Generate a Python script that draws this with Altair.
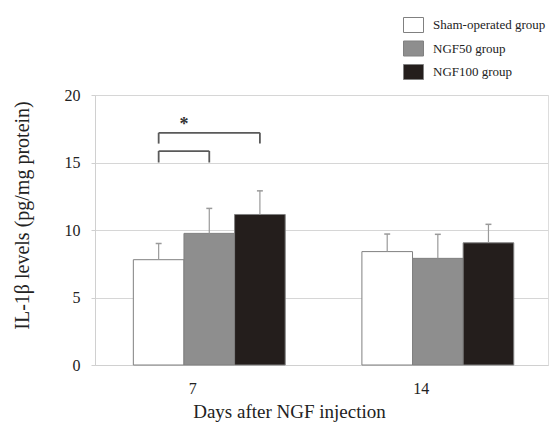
import altair as alt
import pandas as pd

days = ["7", "14"]
groups = ["Sham-operated group", "NGF50 group", "NGF100 group"]
colors = ["#ffffff", "#8e8e8e", "#241e1c"]
means = {
    "Sham-operated group": [7.8, 8.4],
    "NGF50 group": [9.75, 7.9],
    "NGF100 group": [11.15, 9.05],
}
errors = {
    "Sham-operated group": [1.2, 1.3],
    "NGF50 group": [1.85, 1.78],
    "NGF100 group": [1.75, 1.37],
}
# significance brackets (day 7): pairs, bracket height, drop of tips
bracket_pairs = [("Sham-operated group", "NGF50 group"), ("Sham-operated group", "NGF100 group")]
bracket_top = [15.85, 17.2]
bracket_drop = [0.85, 0.8]
star_label = "*"
star_y = 18.0

BW = 0.2215  # bar width in band units
LABEL_SHIFT = -0.075  # tick labels sit slightly left of group centres
offs = {g: (i - 1) * BW for i, g in enumerate(groups)}

rows = []
for di, d in enumerate(days):
    for g in groups:
        c = di + offs[g]
        m = means[g][di]
        e = errors[g][di]
        rows.append(dict(day=d, group=g, xc=c, x0=c - BW / 2, x1=c + BW / 2,
                         mean=m, hi=m + e, c0=c - 0.013, c1=c + 0.013))
df = pd.DataFrame(rows)

hrows, vrows = [], []
for (a, b), top, drop in zip(bracket_pairs, bracket_top, bracket_drop):
    xa, xb = offs[a], offs[b]
    hrows.append(dict(xa=xa, xb=xb, y=top))
    vrows.append(dict(x=xa, y=top, y2=top - drop))
    vrows.append(dict(x=xb, y=top, y2=top - drop))
hdf = pd.DataFrame(hrows)
vdf = pd.DataFrame(vrows)
sdf = pd.DataFrame([dict(x=(offs[groups[0]] + offs[groups[1]]) / 2, y=star_y, t=star_label)])

FONT = "Liberation Serif"
label_expr = "[" + ",".join("'%s'" % d for d in days) + "][round(datum.value - (%f))]" % LABEL_SHIFT

xscale = alt.Scale(domain=[-0.5, 1.482], nice=False, zero=False)
yscale = alt.Scale(domain=[0, 20], nice=False)

xaxis = alt.Axis(values=[i + LABEL_SHIFT for i in range(len(days))], labelExpr=label_expr,
                 ticks=False, grid=False,
                 domainColor="#d0d0d0", labelFont=FONT, labelFontSize=16,
                 labelColor="#222", labelPadding=15,
                 title="Days after NGF injection", titleFont=FONT, titleFontSize=19,
                 titleFontWeight="normal", titleColor="#222", titleX=194, titleY=52,
                 titleBaseline="alphabetic", titleAlign="center")
yaxis = alt.Axis(values=[0, 5, 10, 15, 20], grid=True, gridColor="#d6d6d6",
                 domainColor="#d0d0d0", tickColor="#d0d0d0", tickSize=4,
                 labelFont=FONT, labelFontSize=16, labelColor="#222", labelPadding=11,
                 title="IL-1β levels (pg/mg protein)", titleFont=FONT, titleFontSize=20,
                 titleFontWeight="normal", titleColor="#222", titleX=-73, titleY=120,
                 titleAngle=270, titleBaseline="middle", titleAlign="center")

bars = alt.Chart(df).mark_bar(stroke="#808080", strokeWidth=1).encode(
    x=alt.X("x0:Q", scale=xscale, axis=xaxis),
    x2="x1:Q",
    y=alt.Y("mean:Q", scale=yscale, axis=yaxis),
    y2=alt.datum(0),
    color=alt.Color("group:N", scale=alt.Scale(domain=groups, range=colors),
                    legend=alt.Legend(title=None, orient="none", legendX=308, legendY=-80.5,
                                      symbolType="M-1,-0.75H1V0.75H-1Z", symbolSize=400,
                                      symbolStrokeColor="#808080", symbolStrokeWidth=1,
                                      symbolOpacity=1, rowPadding=3.5, labelOffset=9,
                                      labelFont=FONT, labelFontSize=13, labelColor="#222",
                                      padding=0, labelLimit=300)),
)

err = alt.Chart(df).mark_rule(color="#9a9a9a", strokeWidth=1.2).encode(
    x="xc:Q", y="mean:Q", y2="hi:Q")
cap = alt.Chart(df).mark_rule(color="#9a9a9a", strokeWidth=1.5).encode(
    x="c0:Q", x2="c1:Q", y="hi:Q")

hb = alt.Chart(hdf).mark_rule(color="#5a5a5a", strokeWidth=1.8).encode(
    x="xa:Q", x2="xb:Q", y="y:Q")
vb = alt.Chart(vdf).mark_rule(color="#5a5a5a", strokeWidth=1.8).encode(
    x="x:Q", y="y:Q", y2="y2:Q")
star = alt.Chart(sdf).mark_text(font=FONT, fontSize=18, fontWeight="bold", color="#333",
                                baseline="middle", dy=3).encode(
    x="x:Q", y="y:Q", text="t:N")

chart = alt.layer(bars, err, cap, hb, vb, star).properties(
    width=453, height=270,
    autosize=alt.AutoSizeParams(type="none"),
    padding={"left": 87, "top": 87, "right": 1, "bottom": 57},
).configure_view(stroke=None).configure(background="white")

chart.save("out.html", embed_options={"renderer": "svg", "actions": False})
